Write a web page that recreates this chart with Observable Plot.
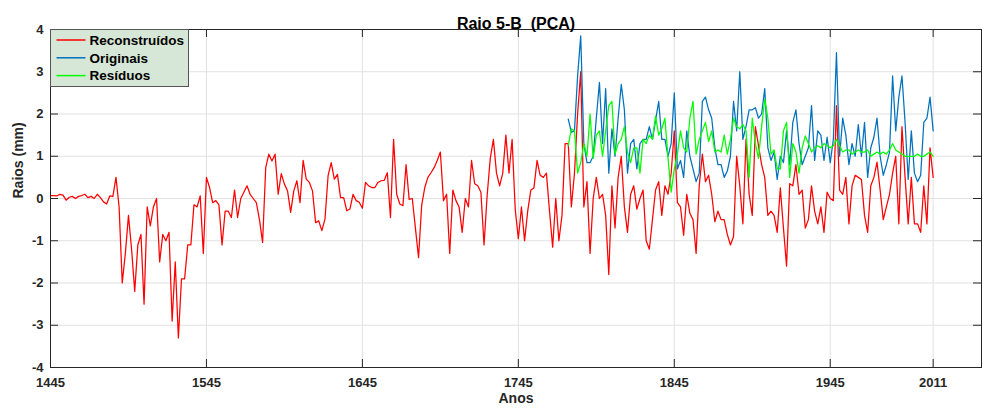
<!DOCTYPE html>
<html>
<head>
<meta charset="utf-8">
<script src="https://cdn.jsdelivr.net/npm/d3@7"></script>
<script src="https://cdn.jsdelivr.net/npm/@observablehq/plot@0.6"></script>
<style>
  html, body { margin: 0; padding: 0; background: #fff; }
  #chart { width: 983px; height: 411px; }
</style>
</head>
<body>
<div id="chart"></div>
<script>
// ---------- data (every 2 years) ----------
const redStart = 1445;   // Reconstruídos: 1445 .. 2011
const origStart = 1777;  // Originais / Resíduos: 1777 .. 2011
const yearStep = 2;

const redVals = [
  0.07,0.07,0.06,0.1,0.08,-0.04,0.03,0.05,0.0,0.05,0.07,0.1,0.02,0.05,0.0,0.1,0.02,-0.08,-0.13,0.06,0.05,
  0.5,-0.2,-2.0,-1.3,-0.4,-1.2,-2.2,-1.1,-0.85,-2.5,-0.2,-0.65,-0.2,0.0,-1.5,-0.85,-1.0,-0.8,-2.9,-1.5,-3.3,-1.9,-1.9,-1.1,-1.1,-0.15,-0.2,0.06,-1.3,0.5,0.26,-0.1,-0.05,-0.15,-1.1,-0.3,-0.3,-0.45,0.2,-0.45,0.0,0.15,0.3,
  0.1,0.0,-0.1,-0.5,-1.04,0.73,1.05,0.89,1.05,0.1,
  0.59,0.34,0.18,-0.33,0.18,0.42,-0.1,0.9,0.46,0.38,0.18,-0.57,-0.53,-0.76,-0.49,0.54,0.85,0.46,0.57,0.02,0.02,-0.29,-0.25,0.1,-0.05,-0.09,-0.23,0.38,0.3,0.26,0.26,0.38,0.42,0.43,0.61,-0.45,1.4,0.1,-0.13,-0.17,0.8,-0.02,0.0,-0.7,-1.4,-0.17,0.26,0.5,0.61,0.73,0.9,1.1,-0.05,0.1,-1.3,
  0.2,-0.05,-0.2,-0.8,0.0,-0.2,0.9,0.35,0.3,0.15,-1.1,0.07,0.95,1.4,0.6,0.3,0.6,1.5,0.6,1.4,-0.25,-0.95,-0.2,-1.0,-0.3,0.2,0.25,0.9,0.55,0.5,0.6,-0.3,-1.15,0.0,-1.0,-0.4,1.3,1.3,-0.2,0.6,2.0,3.0,-0.2,0.4,-1.3,0.0,0.5,0.0,0.1,-0.4,-1.8,0.3,-0.7,0.5,1.0,-0.2,-0.8,0.1,0.3,-0.25,0.0,0.2,-1.0,-1.2,
  -0.5,0.2,0.4,-0.4,0.3,0.1,0.6,1.6,-0.1,-0.2,-0.87,0.1,-0.35,-0.5,-1.3,0.3,1.05,0.4,0.55,0.1,-0.55,-0.3,-0.5,-0.5,-0.85,-1.1,-0.9,1.0,0.3,-0.6,1.4,0.1,-0.4,1.7,1.25,0.8,0.5,-0.4,-0.3,-0.4,-0.8,0.25,-0.7,-1.6,0.35,0.3,0.8,0.1,0.2,-0.7,-0.5,0.3,-0.3,-0.6,
  -0.2,-0.8,0.15,0.0,-0.05,2.2,0.2,0.1,0.5,-0.6,0.3,0.55,0.5,0.45,-0.4,-0.8,0.3,0.5,0.86,0.2,-0.5,-0.2,0.1,0.6,1.0,-0.6,1.7,0.5,-0.6,0.5,-0.6,-0.6,-0.8,0.3,-0.6,1.2,0.5
];

const blueVals = [
  1.88,1.57,1.6,2.9,3.85,1.3,0.85,0.85,1.0,1.9,2.75,1.3,2.6,0.6,1.65,1.0,1.9,2.7,2.1,0.6,1.3,1.4,0.7,1.3,1.4,1.4,1.7,
  1.4,1.85,2.3,1.4,1.4,1.0,1.3,2.5,0.7,0.9,0.5,1.6,1.0,0.7,0.4,0.6,2.3,2.4,2.1,1.9,1.2,0.8,0.8,0.5,0.65,1.0,2.3,1.6,3.0,1.4,1.7,2.1,2.1,2.15,1.9,2.0,2.6,1.2,0.9,1.1,0.45,1.0,0.85,1.6,0.8,1.8,2.1,1.3,0.8,1.0,1.2,2.2,0.9,1.6,
  1.5,0.9,1.45,0.85,1.4,3.45,1.0,1.9,1.5,0.8,1.3,1.0,1.75,1.0,1.8,0.5,1.2,1.45,1.9,1.0,0.55,0.8,1.1,2.9,1.6,2.4,2.9,1.8,0.45,1.6,0.6,0.4,0.55,1.8,1.9,2.4,1.6
];

const greenVals = [
  1.25,1.65,1.6,0.6,0.85,1.3,1.0,2.0,0.95,1.5,1.6,1.0,1.6,2.2,2.3,1.05,1.3,1.4,1.7,1.1,0.85,1.2,1.2,0.6,1.4,1.3,1.5,
  1.4,1.95,1.5,1.65,1.9,0.95,0.15,0.7,1.05,1.6,1.2,1.1,1.9,2.3,1.05,1.4,1.6,1.8,1.35,1.6,1.1,1.15,1.1,1.5,1.05,1.4,1.9,1.7,1.65,
  1.75,1.6,0.5,1.9,1.3,0.95,1.7,2.35,1.9,1.05,1.15,0.7,0.7,1.6,1.8,0.5,1.3,1.1,0.6,1.2,1.48,1.3,1.1,1.2,1.25,
  1.2,1.3,1.25,1.2,1.25,1.4,1.25,1.1,1.15,1.15,1.05,1.1,1.15,1.1,1.1,1.15,1.0,1.05,1.1,1.05,1.1,1.05,1.15,1.3,1.15,1.1,1.05,1.0,1.0,1.0,1.0,1.05,1.0,1.0,1.05,1.1,1.0
];

const xTicks = [1445, 1545, 1645, 1745, 1845, 1945, 2011];
const yTicks = [-4, -3, -2, -1, 0, 1, 2, 3, 4];
const xDomain = [1445, 2042];
const yDomain = [-4, 4];
const titleText = "Raio 5-B  (PCA)";
const xLabelText = "Anos";
const yLabelText = "Raios (mm)";
const seriesNames = ["Reconstruídos", "Originais", "Resíduos"];
const seriesColors = ["#ff0000", "#0072bd", "#00ff00"];

// ---------- build rows ----------
const toRows = (vals, start) => vals.map((v, i) => ({year: start + i * yearStep, value: v}));
const redRows = toRows(redVals, redStart);
const blueRows = toRows(blueVals, origStart);
const greenRows = toRows(greenVals, origStart);

// ---------- layout ----------
const W = 983, H = 411;
const mL = 50, mR = 2, mT = 29, mB = 44;
const frameW = W - mL - mR, frameH = H - mT - mB;
const tickLen = 8;
const gridColor = "#e1e1e1";
const axisColor = "#262626";

const plot = Plot.plot({
  width: W, height: H,
  marginLeft: mL, marginRight: mR, marginTop: mT, marginBottom: mB,
  style: {
    fontFamily: "'Liberation Sans', Arial, Helvetica, sans-serif",
    fontSize: "13px",
    fontWeight: "bold",
    color: axisColor,
    background: "#fff",
    overflow: "visible"
  },
  x: {domain: xDomain, ticks: xTicks, tickFormat: d => String(d), tickSize: 0, tickPadding: 10, label: null},
  y: {domain: yDomain, ticks: yTicks, tickFormat: d => String(d), tickSize: 0, tickPadding: 7, label: null},
  marks: [
    Plot.ruleX(xTicks, {x: d => d, stroke: gridColor, strokeWidth: 1}),
    Plot.ruleY(yTicks, {y: d => d, stroke: gridColor, strokeWidth: 1}),
    Plot.line(redRows, {x: "year", y: "value", stroke: seriesColors[0], strokeWidth: 1.25}),
    Plot.line(blueRows, {x: "year", y: "value", stroke: seriesColors[1], strokeWidth: 1.25}),
    Plot.line(greenRows, {x: "year", y: "value", stroke: seriesColors[2], strokeWidth: 1.25}),
    Plot.frame({stroke: axisColor, strokeWidth: 1}),
    Plot.tickX(xTicks, {x: d => d, insetTop: frameH - tickLen, stroke: axisColor}),
    Plot.tickX(xTicks, {x: d => d, insetBottom: frameH - tickLen, stroke: axisColor}),
    Plot.tickY(yTicks, {y: d => d, insetRight: frameW - tickLen, stroke: axisColor}),
    Plot.tickY(yTicks, {y: d => d, insetLeft: frameW - tickLen, stroke: axisColor}),
    Plot.text([titleText], {frameAnchor: "top", dy: -12, fontSize: 16, fontWeight: "bold", fill: "#000"}),
    Plot.text([xLabelText], {frameAnchor: "bottom", dy: 35, fontSize: 14, fontWeight: "bold", fill: axisColor}),
    Plot.text([yLabelText], {frameAnchor: "left", dx: -32, rotate: -90, fontSize: 14, fontWeight: "bold", fill: axisColor})
  ]
});

// ---------- legend (upper-left, inside the axes) ----------
const svg = d3.select(plot);
const lg = svg.append("g").attr("transform", `translate(${mL + 0.5},${mT + 0.5})`);
lg.append("rect").attr("width", 138).attr("height", 57)
  .attr("fill", "#d6e7d7").attr("stroke", "#555").attr("stroke-width", 1);
seriesNames.forEach((name, i) => {
  const yy = 10.5 + i * 17.8;
  lg.append("line").attr("x1", 6).attr("x2", 35).attr("y1", yy).attr("y2", yy)
    .attr("stroke", seriesColors[i]).attr("stroke-width", 1.5);
  lg.append("text").attr("x", 39).attr("y", yy).attr("dy", "0.36em")
    .attr("text-anchor", "start")
    .attr("font-size", 13.5).attr("font-weight", "bold").attr("fill", "#000").text(name);
});

document.getElementById("chart").appendChild(plot);
</script>
</body>
</html>
